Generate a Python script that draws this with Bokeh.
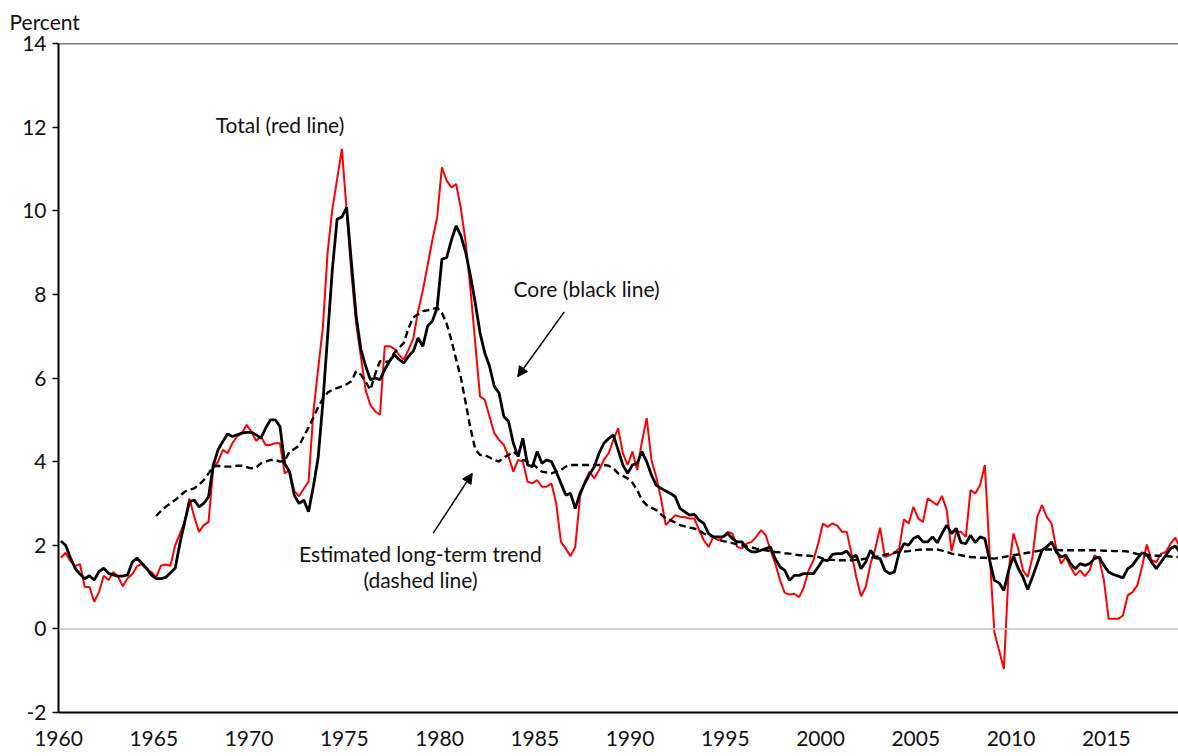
from bokeh.plotting import figure
from bokeh.models import (Span, Label, Arrow, NormalHead, FixedTicker, Range1d,
                          ColumnDataSource, PrintfTickFormatter)
from bokeh.embed import file_html
from bokeh.resources import INLINE

# Four-quarter percent change, quarterly, 1960Q1 .. 2018Q4
total_pct = [
    1.70, 1.82, 1.62, 1.50,  # 1960
    1.55, 1.00, 1.00, 0.65,  # 1961
    0.88, 1.27, 1.17, 1.36,  # 1962
    1.25, 1.02, 1.21, 1.31,  # 1963
    1.50, 1.55, 1.42, 1.36,  # 1964
    1.23, 1.51, 1.54, 1.51,  # 1965
    2.00, 2.28, 2.56, 3.12,  # 1966
    2.68, 2.32, 2.48, 2.56,  # 1967
    3.85, 4.00, 4.28, 4.20,  # 1968
    4.44, 4.60, 4.68, 4.88,  # 1969
    4.72, 4.50, 4.60, 4.40,  # 1970
    4.40, 4.44, 4.44, 3.72,  # 1971
    3.80, 3.30, 3.17, 3.35,  # 1972
    3.52, 5.16, 6.20, 7.20,  # 1973
    9.00, 10.04, 10.75, 11.48,  # 1974
    10.00, 8.50, 7.30, 6.50,  # 1975
    5.70, 5.35, 5.20, 5.12,  # 1976
    6.76, 6.76, 6.70, 6.55,  # 1977
    6.44, 6.68, 6.95, 7.60,  # 1978
    8.10, 8.70, 9.30, 9.84,  # 1979
    11.04, 10.72, 10.56, 10.64,  # 1980
    10.04, 9.24, 8.12, 6.84,  # 1981
    5.56, 5.48, 5.08, 4.68,  # 1982
    4.52, 4.40, 4.12, 3.76,  # 1983
    4.04, 4.00, 3.52, 3.48,  # 1984
    3.56, 3.40, 3.40, 3.48,  # 1985
    3.00, 2.08, 1.92, 1.74,  # 1986
    1.96, 3.16, 3.52, 3.76,  # 1987
    3.60, 3.80, 4.04, 4.20,  # 1988
    4.52, 4.80, 4.20, 3.92,  # 1989
    4.24, 3.80, 4.48, 5.04,  # 1990
    4.04, 3.64, 3.12, 2.48,  # 1991
    2.60, 2.72, 2.68, 2.67,  # 1992
    2.64, 2.64, 2.36, 2.12,  # 1993
    1.96, 2.20, 2.12, 2.20,  # 1994
    2.32, 2.28, 1.96, 1.92,  # 1995
    2.04, 2.08, 2.20, 2.36,  # 1996
    2.24, 1.88, 1.56, 1.16,  # 1997
    0.86, 0.82, 0.84, 0.76,  # 1998
    1.00, 1.40, 1.64, 2.04,  # 1999
    2.52, 2.44, 2.52, 2.47,  # 2000
    2.32, 2.32, 1.80, 1.24,  # 2001
    0.78, 1.00, 1.56, 1.92,  # 2002
    2.42, 1.72, 1.76, 1.82,  # 2003
    1.92, 2.62, 2.52, 2.92,  # 2004
    2.64, 2.56, 3.12, 3.04,  # 2005
    2.96, 3.18, 2.84, 1.86,  # 2006
    2.32, 2.32, 2.20, 3.32,  # 2007
    3.24, 3.44, 3.92, 1.80,  # 2008
    -0.08, -0.52, -0.96, 1.40,  # 2009
    2.28, 1.92, 1.40, 1.24,  # 2010
    1.72, 2.68, 2.96, 2.68,  # 2011
    2.52, 1.92, 1.56, 1.72,  # 2012
    1.48, 1.28, 1.40, 1.26,  # 2013
    1.40, 1.76, 1.68, 1.16,  # 2014
    0.24, 0.24, 0.24, 0.32,  # 2015
    0.80, 0.88, 1.04, 1.48,  # 2016
    2.02, 1.64, 1.60, 1.80,  # 2017
    1.84, 2.04, 2.18, 1.91,  # 2018
]

core_pct = [
    2.10, 2.00, 1.70, 1.45,  # 1960
    1.31, 1.20, 1.27, 1.17,  # 1961
    1.37, 1.45, 1.33, 1.29,  # 1962
    1.26, 1.26, 1.29, 1.60,  # 1963
    1.69, 1.57, 1.45, 1.29,  # 1964
    1.20, 1.20, 1.23, 1.34,  # 1965
    1.45, 2.05, 2.56, 3.04,  # 1966
    3.08, 2.92, 3.00, 3.16,  # 1967
    3.92, 4.28, 4.48, 4.66,  # 1968
    4.60, 4.64, 4.68, 4.70,  # 1969
    4.70, 4.64, 4.56, 4.80,  # 1970
    5.00, 5.00, 4.84, 3.95,  # 1971
    3.76, 3.20, 3.00, 3.08,  # 1972
    2.80, 3.40, 4.08, 5.40,  # 1973
    7.00, 8.60, 9.80, 9.85,  # 1974
    10.08, 8.76, 7.48, 6.68,  # 1975
    6.28, 5.96, 6.00, 5.96,  # 1976
    6.20, 6.40, 6.56, 6.44,  # 1977
    6.36, 6.52, 6.64, 6.96,  # 1978
    6.76, 7.24, 7.36, 7.68,  # 1979
    8.84, 8.88, 9.30, 9.64,  # 1980
    9.40, 9.00, 8.44, 7.80,  # 1981
    7.08, 6.60, 6.28, 5.80,  # 1982
    5.64, 5.08, 4.96, 4.44,  # 1983
    4.12, 4.56, 3.92, 3.88,  # 1984
    4.24, 3.96, 4.04, 4.00,  # 1985
    3.76, 3.48, 3.20, 3.24,  # 1986
    2.88, 3.24, 3.48, 3.70,  # 1987
    3.88, 4.20, 4.44, 4.55,  # 1988
    4.64, 4.28, 3.92, 3.72,  # 1989
    3.92, 3.96, 4.24, 4.00,  # 1990
    3.68, 3.44, 3.36, 3.30,  # 1991
    3.24, 3.16, 2.88, 2.80,  # 1992
    2.72, 2.74, 2.60, 2.52,  # 1993
    2.28, 2.20, 2.20, 2.20,  # 1994
    2.28, 2.16, 2.08, 2.08,  # 1995
    1.92, 1.84, 1.84, 1.88,  # 1996
    1.92, 1.96, 1.68, 1.48,  # 1997
    1.40, 1.16, 1.28, 1.28,  # 1998
    1.32, 1.32, 1.32, 1.48,  # 1999
    1.65, 1.63, 1.78, 1.80,  # 2000
    1.80, 1.86, 1.70, 1.76,  # 2001
    1.44, 1.60, 1.88, 1.70,  # 2002
    1.68, 1.40, 1.32, 1.36,  # 2003
    1.82, 2.04, 2.00, 2.16,  # 2004
    2.22, 2.08, 2.08, 2.20,  # 2005
    2.06, 2.28, 2.48, 2.28,  # 2006
    2.40, 2.06, 2.04, 2.24,  # 2007
    2.06, 2.20, 2.16, 1.64,  # 2008
    1.16, 1.10, 0.92, 1.40,  # 2009
    1.74, 1.45, 1.24, 0.94,  # 2010
    1.24, 1.56, 1.88, 1.96,  # 2011
    2.08, 1.84, 1.72, 1.76,  # 2012
    1.56, 1.44, 1.56, 1.52,  # 2013
    1.56, 1.68, 1.72, 1.52,  # 2014
    1.36, 1.30, 1.26, 1.22,  # 2015
    1.44, 1.52, 1.68, 1.82,  # 2016
    1.78, 1.60, 1.44, 1.60,  # 2017
    1.76, 1.92, 1.98, 1.83,  # 2018
]

# Estimated long-term trend, quarterly, 1965Q1 .. 2018Q4
trend_pct = [
    2.70, 2.82, 2.92, 3.00,  # 1965
    3.08, 3.18, 3.28, 3.33,  # 1966
    3.36, 3.45, 3.56, 3.72,  # 1967
    3.88, 3.90, 3.88, 3.88,  # 1968
    3.88, 3.90, 3.90, 3.87,  # 1969
    3.84, 3.86, 3.96, 4.00,  # 1970
    4.04, 4.04, 4.00, 4.02,  # 1971
    4.24, 4.30, 4.38, 4.60,  # 1972
    4.82, 5.05, 5.30, 5.50,  # 1973
    5.65, 5.72, 5.76, 5.80,  # 1974
    5.85, 5.92, 6.16, 6.08,  # 1975
    5.90, 5.72, 6.10, 6.40,  # 1976
    6.38, 6.40, 6.60, 6.72,  # 1977
    6.84, 7.20, 7.45, 7.52,  # 1978
    7.60, 7.62, 7.65, 7.68,  # 1979
    7.56, 7.30, 6.90, 6.44,  # 1980
    6.00, 5.40, 4.80, 4.30,  # 1981
    4.16, 4.16, 4.10, 4.04,  # 1982
    4.00, 4.10, 4.16, 4.24,  # 1983
    4.15, 4.04, 4.00, 3.96,  # 1984
    3.85, 3.76, 3.74, 3.72,  # 1985
    3.76, 3.80, 3.88, 3.92,  # 1986
    3.92, 3.92, 3.92, 3.92,  # 1987
    3.92, 3.92, 3.92, 3.90,  # 1988
    3.84, 3.72, 3.66, 3.60,  # 1989
    3.50, 3.32, 3.08, 2.96,  # 1990
    2.90, 2.84, 2.74, 2.64,  # 1991
    2.60, 2.54, 2.48, 2.45,  # 1992
    2.42, 2.40, 2.35, 2.28,  # 1993
    2.24, 2.20, 2.14, 2.10,  # 1994
    2.08, 2.05, 2.02, 2.00,  # 1995
    1.97, 1.95, 1.92, 1.90,  # 1996
    1.88, 1.86, 1.84, 1.83,  # 1997
    1.81, 1.80, 1.78, 1.76,  # 1998
    1.76, 1.75, 1.74, 1.72,  # 1999
    1.68, 1.66, 1.65, 1.64,  # 2000
    1.64, 1.64, 1.64, 1.65,  # 2001
    1.66, 1.68, 1.70, 1.72,  # 2002
    1.74, 1.77, 1.80, 1.82,  # 2003
    1.84, 1.85, 1.86, 1.88,  # 2004
    1.89, 1.90, 1.90, 1.90,  # 2005
    1.90, 1.87, 1.84, 1.80,  # 2006
    1.78, 1.76, 1.74, 1.72,  # 2007
    1.71, 1.70, 1.70, 1.69,  # 2008
    1.68, 1.70, 1.72, 1.74,  # 2009
    1.76, 1.78, 1.80, 1.82,  # 2010
    1.84, 1.86, 1.88, 1.90,  # 2011
    1.90, 1.89, 1.88, 1.88,  # 2012
    1.88, 1.88, 1.88, 1.88,  # 2013
    1.88, 1.88, 1.88, 1.87,  # 2014
    1.87, 1.86, 1.86, 1.86,  # 2015
    1.85, 1.82, 1.79, 1.77,  # 2016
    1.76, 1.76, 1.75, 1.75,  # 2017
    1.74, 1.73, 1.72, 1.72,  # 2018
]

start_total = 1960
start_trend = 1965
x_ticks = [1960, 1965, 1970, 1975, 1980, 1985, 1990, 1995, 2000, 2005, 2010, 2015]
y_ticks = [-2, 0, 2, 4, 6, 8, 10, 12, 14]

def quarter_x(start, n):
    return [start + (k + 0.5) / 4.0 for k in range(n)]

src_total = ColumnDataSource(dict(x=quarter_x(start_total, len(total_pct)), y=total_pct))
src_core = ColumnDataSource(dict(x=quarter_x(start_total, len(core_pct)), y=core_pct))
src_trend = ColumnDataSource(dict(x=quarter_x(start_trend, len(trend_pct)), y=trend_pct))

FONT = "Lato"
FS = "21px"
TXT = "#111111"

p = figure(width=1178, height=756, output_backend="svg", toolbar_location=None,
           x_range=Range1d(1960, 2018.79), y_range=Range1d(-2, 14),
           min_border_left=58, min_border_right=0, min_border_top=0, min_border_bottom=44)
p.outline_line_color = None
p.xgrid.visible = False
p.ygrid.visible = False
p.background_fill_color = "white"
p.border_fill_color = "white"

# "Percent" unit label, top left above the axis (title panel sets the top margin)
p.title.text = "Percent"
p.title.align = "left"
p.title.vertical_align = "top"
p.title.offset = -49
p.title.standoff = 16
p.title.text_font = FONT
p.title.text_font_size = FS
p.title.text_font_style = "normal"
p.title.text_color = TXT

p.add_layout(Span(location=0, dimension="width", line_color="#BFBFBF", line_width=1.5))
p.add_layout(Span(location=14, dimension="width", line_color="#000000", line_width=1.5))

p.line("x", "y", source=src_total, line_color="#FF0000", line_width=2)
p.line("x", "y", source=src_core, line_color="#000000", line_width=2.8)
p.line("x", "y", source=src_trend, line_color="#000000", line_width=2.4, line_dash="7 4")

xa = p.xaxis[0]
xa.ticker = FixedTicker(ticks=x_ticks)
xa.major_tick_out = 0
xa.major_tick_in = 0
xa.minor_tick_out = 0
xa.minor_tick_in = 0
xa.axis_line_color = "black"
xa.axis_line_width = 2
xa.major_label_standoff = 18
xa.major_label_text_font = FONT
xa.major_label_text_font_size = FS
xa.major_label_text_color = TXT

ya = p.yaxis[0]
ya.ticker = FixedTicker(ticks=y_ticks)
ya.formatter = PrintfTickFormatter(format="%d")
ya.major_tick_out = 6
ya.major_tick_in = 0
ya.minor_tick_out = 0
ya.minor_tick_in = 0
ya.major_tick_line_color = "black"
ya.major_tick_line_width = 1.5
ya.axis_line_color = "black"
ya.axis_line_width = 2
ya.major_label_standoff = 6
ya.major_label_text_font = FONT
ya.major_label_text_font_size = FS
ya.major_label_text_color = TXT

def add_label(x, y, text, align="left"):
    p.add_layout(Label(x=x, y=y, text=text, text_font=FONT, text_font_size=FS,
                       text_color=TXT, text_align=align, text_baseline="middle"))

add_label(1968.25, 12.07, "Total (red line)")
add_label(1983.88, 8.14, "Core (black line)")
add_label(1979.0, 1.80, "Estimated long-term trend", align="center")
add_label(1979.0, 1.18, "(dashed line)", align="center")

p.add_layout(Arrow(end=NormalHead(size=10, fill_color="black", line_color="black"),
                   x_start=1986.55, y_start=7.58, x_end=1984.1, y_end=6.03,
                   line_color="black", line_width=1.5))
p.add_layout(Arrow(end=NormalHead(size=10, fill_color="black", line_color="black"),
                   x_start=1979.67, y_start=2.29, x_end=1981.72, y_end=3.72,
                   line_color="black", line_width=1.5))

open("out.html", "w").write(file_html(p, INLINE))
